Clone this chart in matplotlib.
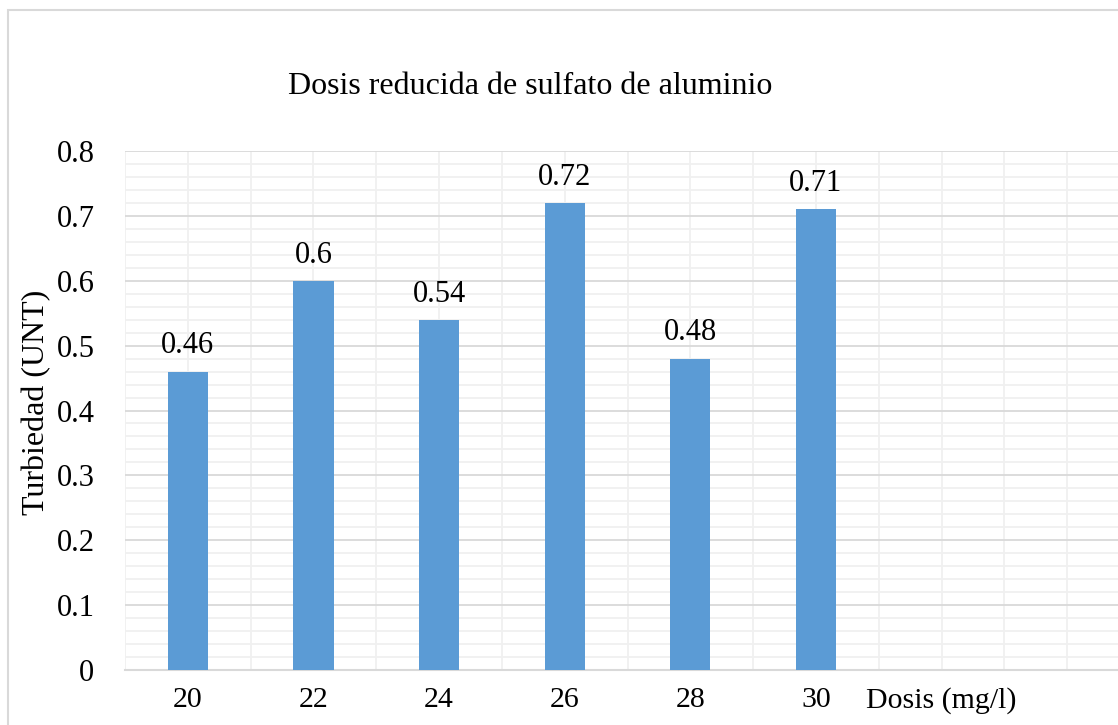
import matplotlib
matplotlib.use("Agg")
import matplotlib.pyplot as plt
import numpy as np
from matplotlib.patches import Rectangle

categories = ['20', '22', '24', '26', '28', '30']
values = [0.46, 0.6, 0.54, 0.72, 0.48, 0.71]
tick_labels = ['20', '22', '24', '26', '28', '30', 'Dosis (mg/l)', '']
y_ticks = [0, 0.1, 0.2, 0.3, 0.4, 0.5, 0.6, 0.7, 0.8]
y_tick_labels = ['0', '0.1', '0.2', '0.3', '0.4', '0.5', '0.6', '0.7', '0.8']
title = 'Dosis reducida de sulfato de aluminio'
ylabel = 'Turbiedad (UNT)'

plt.rcParams['font.family'] = ['Liberation Serif', 'DejaVu Serif']
W, H = 1118, 725
fig = plt.figure(figsize=(W/100, H/100), dpi=100)

# outer chart border
fig.patches.append(Rectangle((8/W, -0.1), 1.2, 1 - 10/H + 0.1, transform=fig.transFigure,
                             fill=False, edgecolor='#d9d9d9', linewidth=1.5))

left, right, bottom, top = 125/W, 1130/W, 1 - 670/H, 1 - 151/H
ax = fig.add_axes([left, bottom, right - left, top - bottom])

n = len(tick_labels)
x = np.arange(len(categories))
ax.set_xlim(-0.5, n - 0.5)
ax.set_ylim(0, 0.8)

# gridlines
for yv in np.arange(0, 0.8001, 0.02):
    major = abs(round(yv * 10) - yv * 10) < 1e-6
    if not major:
        ax.axhline(yv, color='#f0f0f0', linewidth=1.3, zorder=0)
for xv in np.arange(-0.5, n - 0.5 + 0.01, 0.5):
    ax.axvline(xv, color='#f0f0f0', linewidth=1.3, zorder=0.5)
for yv in y_ticks[1:]:
    ax.axhline(yv, color='#d9d9d9', linewidth=1.3, zorder=1)

bars = ax.bar(x, values, width=0.32, color='#5B9BD5', zorder=3)
for xi, v in zip(x, values):
    ax.annotate(f'{v:g}', (xi, v), xytext=(0, 8), textcoords='offset points',
                ha='center', va='bottom', fontsize=22, color='black')

ax.set_xticks(np.arange(n))
ax.set_xticklabels(tick_labels, fontsize=21.5)
ax.set_yticks(y_ticks)
ax.set_yticklabels(y_tick_labels, fontsize=22)
ax.tick_params(axis='both', length=0)
ax.tick_params(axis='x', pad=12)
ax.tick_params(axis='y', pad=22)
for s in ['top', 'right', 'left']:
    ax.spines[s].set_visible(False)
ax.spines['bottom'].set_color('#d9d9d9')
ax.spines['bottom'].set_linewidth(1.5)
ax.set_axisbelow(True)

fig.text(37/W, 1 - 402/H, ylabel, rotation=90, ha='center', va='center', fontsize=23)
fig.text(530/W, 1 - 86/H, title, ha='center', va='center', fontsize=23)

fig.savefig('out.png', dpi=100)
